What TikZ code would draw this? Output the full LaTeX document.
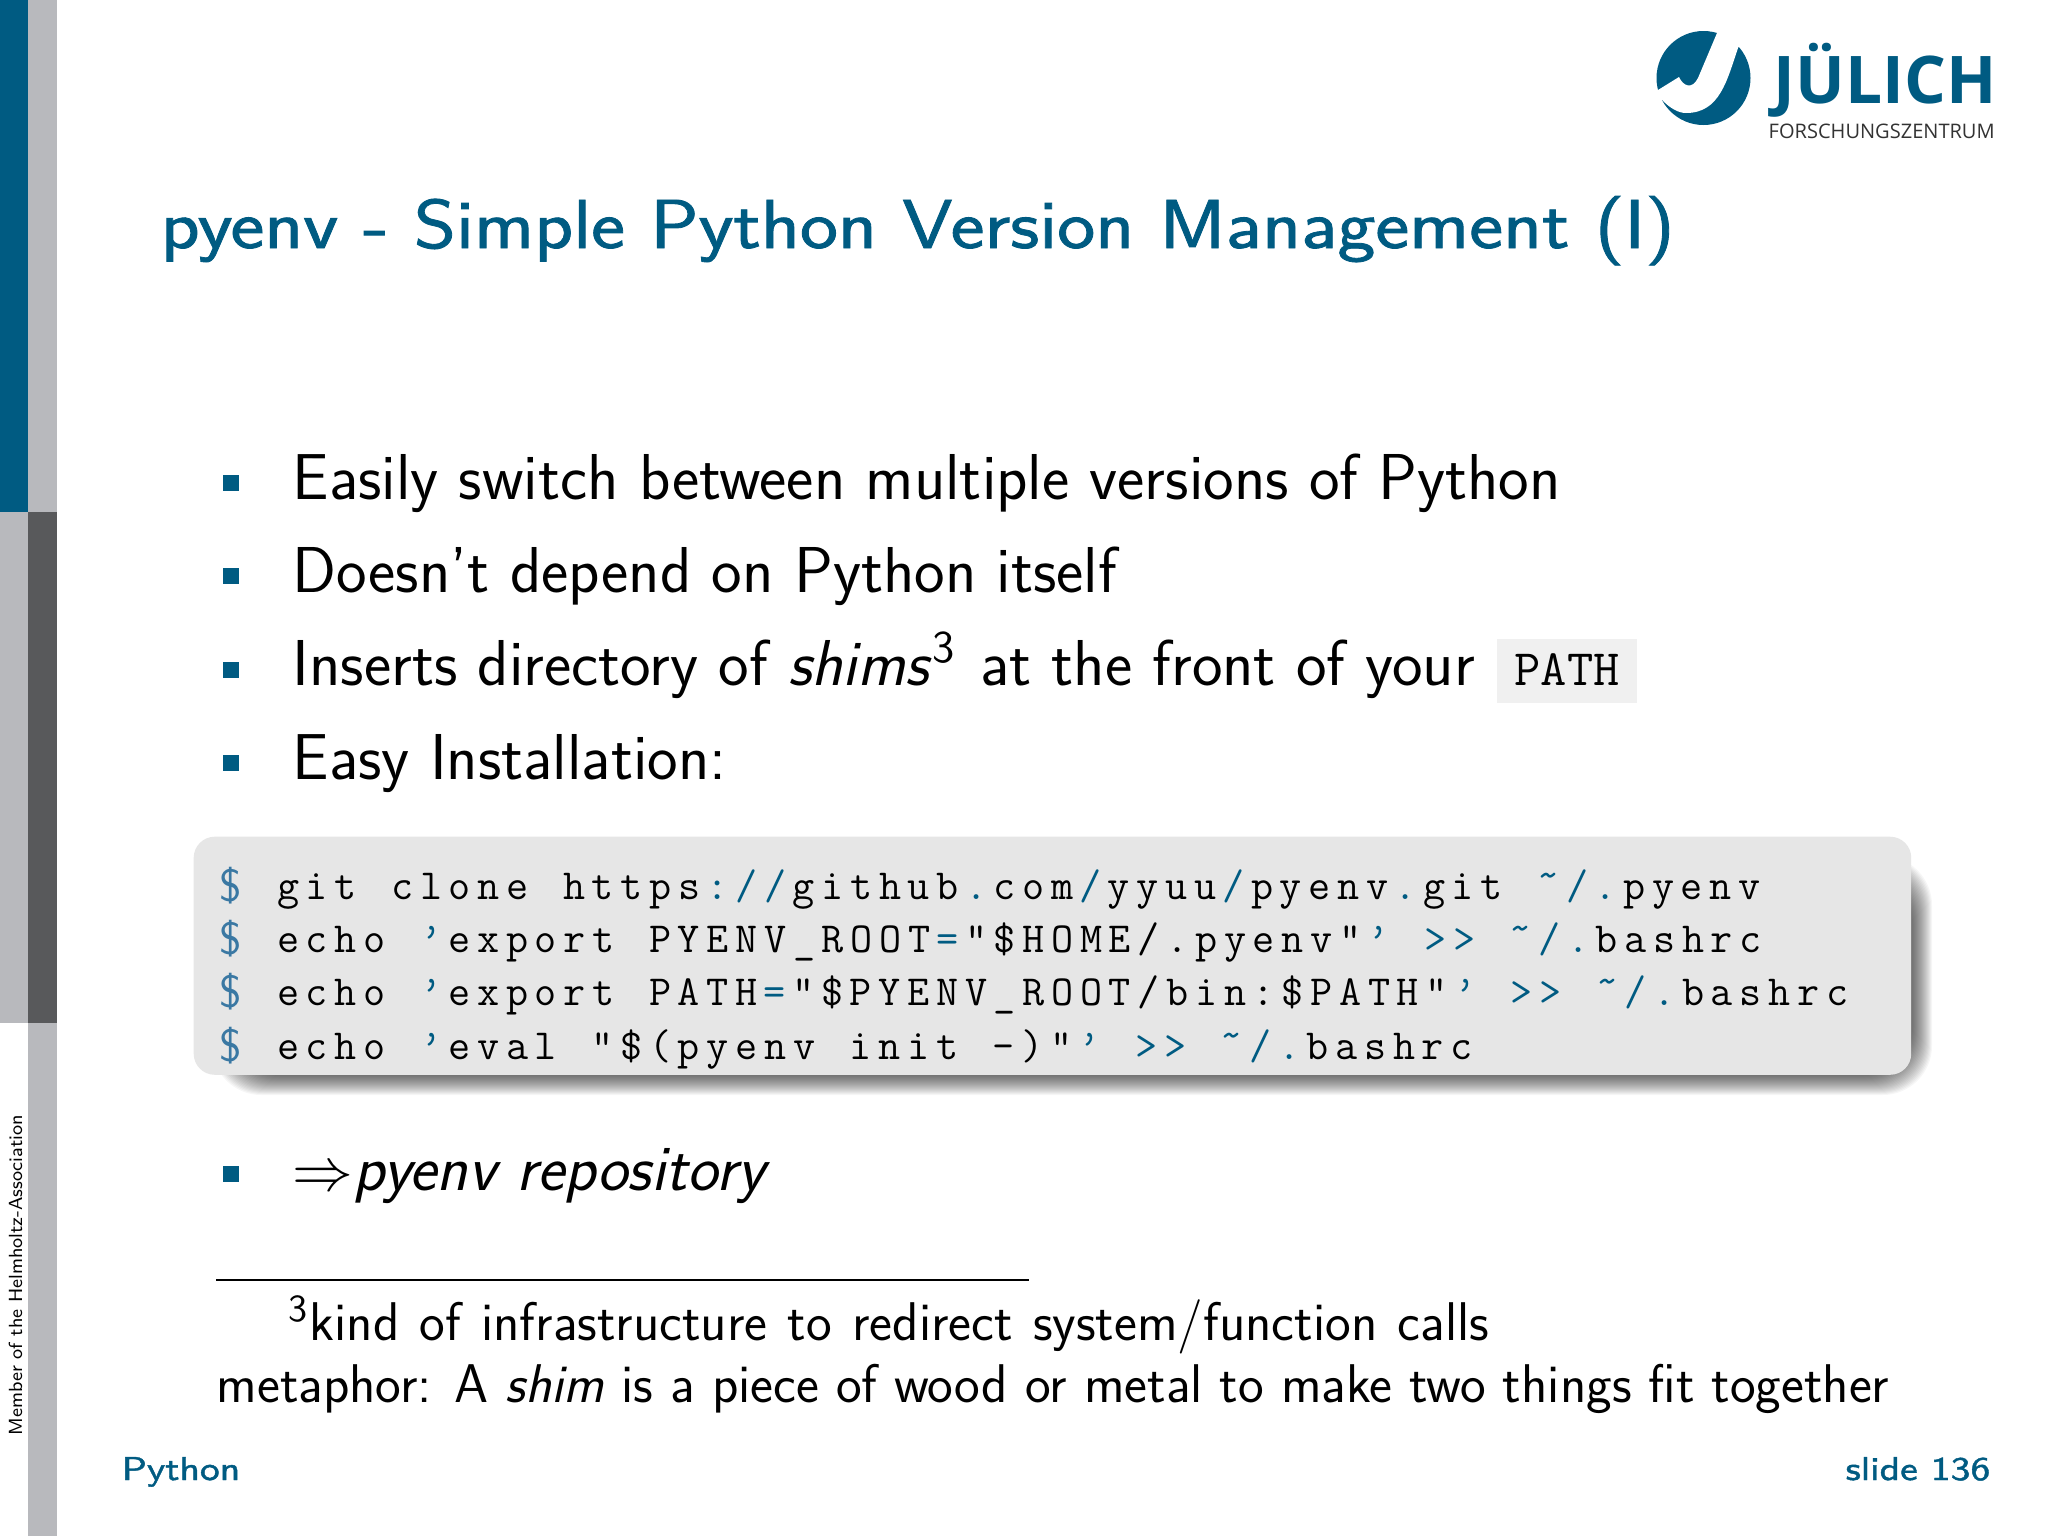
\documentclass[tikz,border=0pt]{standalone}
\usepackage{fontspec}
\usepackage{amsmath,amssymb}
\usepackage{tikz}
\usetikzlibrary{positioning,calc}
\setsansfont{Latin Modern Sans}
\setmonofont{Latin Modern Mono}[LetterSpace=15.6,WordSpace=1.2]
\newfontfamily\logofont{Open Sans}
\newfontfamily\titlefont{Latin Modern Sans}[FakeStretch=1.165,FakeBold=1.2]
\newfontfamily\pathfont{Latin Modern Mono}
\definecolor{fzjblue}{HTML}{005B82}
\definecolor{fzjgrey}{HTML}{B8B9BD}
\definecolor{fzjdark}{HTML}{58595B}
\definecolor{promptblue}{HTML}{3A78A3}
\definecolor{codebg}{HTML}{E6E6E6}
\definecolor{pathbg}{HTML}{F0F0F0}
\newcommand{\lk}{\kern1.8pt}
\newcommand{\pn}[1]{\textcolor{fzjblue}{#1}}
\newcommand{\prompt}{\makebox[16.32pt][l]{\textcolor{promptblue}{\raisebox{-0.6pt}{\sffamily\fontsize{13}{14}\selectfont\$}}}}
\begin{document}
\begin{tikzpicture}[x=0.01cm,y=-0.01cm,font=\sffamily]
  % Styles
  \tikzstyle{bulletbox}=[fill=fzjblue,inner sep=0pt,minimum width=4.6pt,minimum height=4.6pt]
  \tikzstyle{itemtext}=[anchor=base west,inner sep=0pt,font=\sffamily\fontsize{18.45}{20}\selectfont]
  \tikzstyle{codeline}=[anchor=base west,inner sep=0pt,font=\ttfamily\fontsize{12.2}{14}\selectfont]
  \tikzstyle{notetext}=[anchor=base west,inner sep=0pt,font=\sffamily\fontsize{15.5}{17}\selectfont]
  \tikzstyle{foot}=[inner sep=0pt,text=fzjblue,font=\titlefont\fontsize{9.4}{13}\selectfont]

  \useasboundingbox (0,0) rectangle (2048,1536);
  \fill[white] (0,0) rectangle (2048,1536);

  % Side bars
  \fill[fzjblue] (0,0) rectangle (28,512);
  \fill[fzjgrey] (28,0) rectangle (57,512);
  \fill[fzjgrey] (0,512) rectangle (28,1023);
  \fill[fzjdark] (28,512) rectangle (57,1023);
  \fill[fzjgrey] (28,1023) rectangle (57,1536);
  \node[rotate=90,anchor=base west,inner sep=0pt,font=\sffamily\fontsize{5.4}{7}\selectfont] (member) at (22,1436) {Member of the Helmholtz-Association};

  % Logo
  \fill[fzjblue] (1703.5,78) circle (47);
  \fill[white] (1717,33) -- (1720,26) -- (1744,38) -- (1738,48) .. controls (1727,80) and (1720,113) .. (1686,113)
    .. controls (1678,113) and (1670,108) .. (1662,100) -- (1650,103) -- (1650,94) -- (1658,90) -- (1679,77)
    .. controls (1683,86) and (1692,90) .. (1698,78) -- cycle;
  \node[anchor=base west,inner sep=0pt,text=fzjblue,font=\logofont\bfseries\fontsize{18.7}{21}\selectfont] (julich) at (1773,103) {JÜLICH};
  \node[anchor=base west,inner sep=0pt,text=black!80,font=\logofont\fontsize{5.7}{7}\selectfont] (fz) at (1768,138) {FORSCHUNGSZENTRUM};

  % Title
  \node[anchor=base west,inner sep=0pt,text=fzjblue,font=\titlefont\fontsize{19.7}{24}\selectfont] (title) at (160,248) {pyenv - Simple Python Version Management (I)};

  % Items
  \node[bulletbox] (b1) at (231,483) {};
  \node[bulletbox] (b2) at (231,576) {};
  \node[bulletbox] (b3) at (231,670) {};
  \node[bulletbox] (b4) at (231,763) {};
  \node[bulletbox] (b5) at (231,1174) {};
  \node[itemtext] (t1) at (292,499) {Easily switch between multiple versions of Python};
  \node[itemtext] (t2) at (292,592) {Doesn’t depend on Python itself};
  \node[itemtext] (t3) at (292,685) {Inserts directory of \textit{shims}\textsuperscript{3}\kern1pt{} at the front of your};
  \node[fill=pathbg,inner sep=0pt,minimum width=40pt,minimum height=18.2pt] (pathbox) at (1567,671) {};
  \node[anchor=base,inner sep=0pt,font=\pathfont\fontsize{14.5}{16}\selectfont] (path) at (1567,685) {PATH};
  \node[itemtext] (t4) at (292,779) {Easy Installation:};
  \node[itemtext] (t5) at (292,1190) {$\Rightarrow$\textit{pyenv repository}};

  % Code box
  \foreach \g in {0,...,19}{
    \fill[black,opacity=0.035,rounded corners=14] ({212+\g},{856+\g}) rectangle ({1932-\g},{1095-\g});
  }
  \node[fill=codebg,rounded corners=6pt,inner sep=0pt,anchor=north west,minimum width=488.4pt,minimum height=67.7pt] (codebox) at (193,836) {};
  \node[codeline] (c1) at (219,899) {\prompt git clone https\lk\pn{://}\lk github\lk\pn{.}\lk com\lk\pn{/}\lk yyuu\lk\pn{/}\lk pyenv\lk\pn{.}\lk git \pn{˜/.}\lk pyenv};
  \node[codeline] (c2) at (219,952) {\prompt echo \pn{’}\lk export PYENV\_ROOT\lk\pn{=}\lk"\$HOME/.pyenv"\lk\pn{’} \pn{>>} \pn{˜/.}\lk bashrc};
  \node[codeline] (c3) at (219,1005) {\prompt echo \pn{’}\lk export PATH\lk\pn{=}\lk"\$PYENV\_ROOT/bin:\$PATH"\lk\pn{’} \pn{>>} \pn{˜/.}\lk bashrc};
  \node[codeline] (c4) at (219,1059) {\prompt echo \pn{’}\lk eval "\$(pyenv init -)"\lk\pn{’} \pn{>>} \pn{˜/.}\lk bashrc};

  % Footnote
  \draw[line width=0.6pt] (216,1280) -- (1029,1280);
  \node[notetext] (n1) at (288,1340) {\spaceskip=5.8pt\textsuperscript{3}kind of infrastructure to redirect system/function calls};
  \node[notetext] (n2) at (216,1402) {metaphor: A \textit{shim} is a piece of wood or metal to make two things fit together};

  % Footer
  \node[foot,anchor=base west] (python) at (121,1480) {Python};
  \node[foot,anchor=base east] (slide) at (1991,1480) {slide 136};
\end{tikzpicture}
\end{document}
